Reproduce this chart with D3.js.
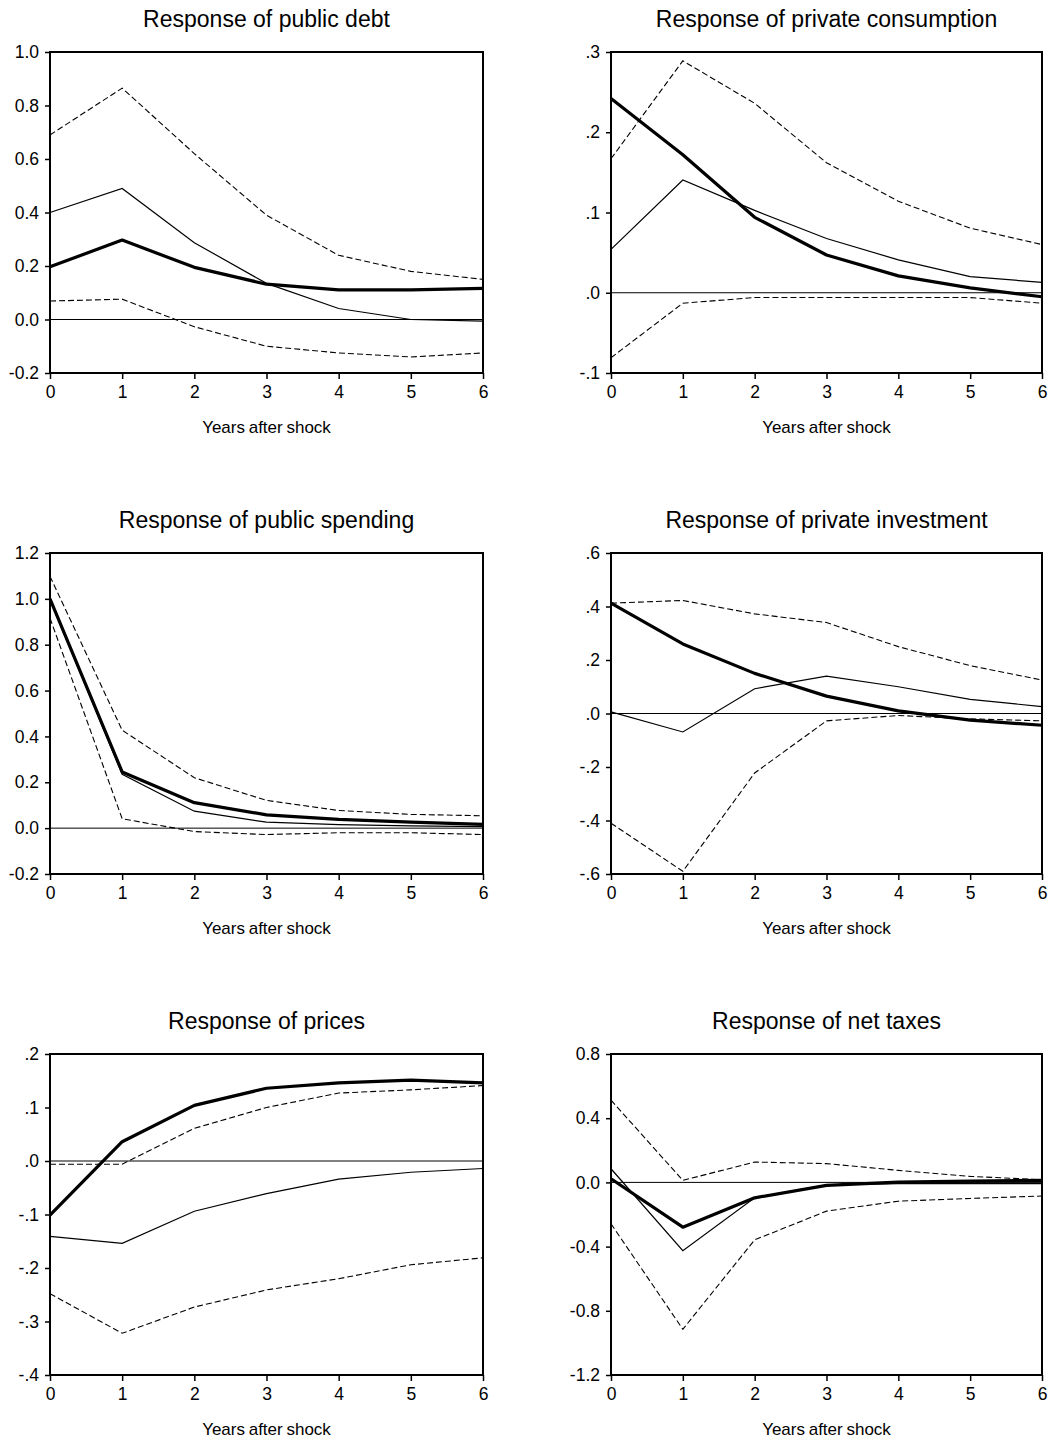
<!DOCTYPE html>
<html>
<head>
<meta charset="utf-8">
<script src="https://cdn.jsdelivr.net/npm/d3@7"></script>
<style>
  body { margin: 0; background: #fff; }
  text { font-family: "Liberation Sans", Arial, sans-serif; fill: #000; }
</style>
</head>
<body>
<script>
// horizons on the x axis
const years = [0, 1, 2, 3, 4, 5, 6];

// public debt
const debtMain = [0.197, 0.297, 0.195, 0.132, 0.111, 0.111, 0.116];
const debtAlt = [0.40, 0.49, 0.287, 0.135, 0.041, 0.0, -0.006];
const debtUpper = [0.69, 0.865, 0.62, 0.39, 0.24, 0.18, 0.15];
const debtLower = [0.069, 0.076, -0.027, -0.10, -0.125, -0.14, -0.125];
const debtTicks = [-0.2, 0.0, 0.2, 0.4, 0.6, 0.8, 1.0];
const debtTickLabels = ["-0.2", "0.0", "0.2", "0.4", "0.6", "0.8", "1.0"];

// private consumption
const consMain = [0.242, 0.172, 0.094, 0.047, 0.021, 0.006, -0.005];
const consAlt = [0.054, 0.1405, 0.1026, 0.0676, 0.041, 0.020, 0.013];
const consUpper = [0.167, 0.289, 0.236, 0.162, 0.114, 0.0805, 0.060];
const consLower = [-0.081, -0.013, -0.006, -0.006, -0.006, -0.006, -0.013];
const consTicks = [-0.1, 0.0, 0.1, 0.2, 0.3];
const consTickLabels = ["-.1", ".0", ".1", ".2", ".3"];

// public spending
const spendMain = [1.0, 0.245, 0.111, 0.058, 0.038, 0.026, 0.016];
const spendAlt = [0.996, 0.235, 0.074, 0.026, 0.015, 0.01, 0.007];
const spendUpper = [1.098, 0.427, 0.22, 0.121, 0.077, 0.06, 0.054];
const spendLower = [0.916, 0.041, -0.015, -0.028, -0.02, -0.02, -0.028];
const spendTicks = [-0.2, 0.0, 0.2, 0.4, 0.6, 0.8, 1.0, 1.2];
const spendTickLabels = ["-0.2", "0.0", "0.2", "0.4", "0.6", "0.8", "1.0", "1.2"];

// private investment
const invMain = [0.4125, 0.26, 0.15, 0.065, 0.01, -0.025, -0.044];
const invAlt = [0.006, -0.069, 0.0925, 0.14, 0.1, 0.0525, 0.026];
const invUpper = [0.4125, 0.4225, 0.3725, 0.34, 0.25, 0.179, 0.125];
const invLower = [-0.41, -0.59, -0.2225, -0.0275, -0.0075, -0.02, -0.0275];
const invTicks = [-0.6, -0.4, -0.2, 0.0, 0.2, 0.4, 0.6];
const invTickLabels = ["-.6", "-.4", "-.2", ".0", ".2", ".4", ".6"];

// prices
const priceMain = [-0.101, 0.036, 0.104, 0.136, 0.146, 0.151, 0.146];
const priceAlt = [-0.141, -0.154, -0.094, -0.061, -0.034, -0.021, -0.014];
const priceUpper = [-0.006, -0.006, 0.061, 0.10, 0.127, 0.133, 0.141];
const priceLower = [-0.248, -0.322, -0.273, -0.241, -0.22, -0.194, -0.181];
const priceTicks = [-0.4, -0.3, -0.2, -0.1, 0.0, 0.1, 0.2];
const priceTickLabels = ["-.4", "-.3", "-.2", "-.1", ".0", ".1", ".2"];

// net taxes
const taxMain = [0.023, -0.279, -0.096, -0.019, 0.002, 0.008, 0.0125];
const taxAlt = [0.085, -0.425, -0.096, -0.015, -0.008, -0.008, -0.008];
const taxUpper = [0.5125, 0.0125, 0.127, 0.117, 0.075, 0.0375, 0.017];
const taxLower = [-0.258, -0.915, -0.358, -0.179, -0.117, -0.1, -0.085];
const taxTicks = [-1.2, -0.8, -0.4, 0.0, 0.4, 0.8];
const taxTickLabels = ["-1.2", "-0.8", "-0.4", "0.0", "0.4", "0.8"];

const titles = ["Response of public debt", "Response of private consumption",
  "Response of public spending", "Response of private investment",
  "Response of prices", "Response of net taxes"];

const panels = [
  { main: debtMain, alt: debtAlt, upper: debtUpper, lower: debtLower, ticks: debtTicks, labels: debtTickLabels },
  { main: consMain, alt: consAlt, upper: consUpper, lower: consLower, ticks: consTicks, labels: consTickLabels },
  { main: spendMain, alt: spendAlt, upper: spendUpper, lower: spendLower, ticks: spendTicks, labels: spendTickLabels },
  { main: invMain, alt: invAlt, upper: invUpper, lower: invLower, ticks: invTicks, labels: invTickLabels },
  { main: priceMain, alt: priceAlt, upper: priceUpper, lower: priceLower, ticks: priceTicks, labels: priceTickLabels },
  { main: taxMain, alt: taxAlt, upper: taxUpper, lower: taxLower, ticks: taxTicks, labels: taxTickLabels }
];

// plot frame positions (left/right per column, top per row)
const colX = [[50, 483], [611, 1042]];
const rowY = [52, 553, 1054];
const plotH = 321;

function drawPanel(svg, p, title, left, right, top) {
  var bottom = top + plotH;
  var g = svg.append("g");

  var xScale = d3.scaleLinear().domain([0, 6]).range([left, right]);
  var yScale = d3.scaleLinear()
    .domain([d3.min(p.ticks), d3.max(p.ticks)])
    .range([bottom, top]);

  // zero line
  g.append("line")
    .attr("x1", left).attr("x2", right)
    .attr("y1", yScale(0)).attr("y2", yScale(0))
    .attr("stroke", "#000").attr("stroke-width", 1);

  var line = d3.line()
    .x((d, i) => xScale(years[i]))
    .y(d => yScale(d));

  // confidence bands (dashed)
  [p.upper, p.lower].forEach(function(s) {
    g.append("path").datum(s)
      .attr("d", line)
      .attr("fill", "none")
      .attr("stroke", "#000")
      .attr("stroke-width", 1.1)
      .attr("stroke-dasharray", "6,3");
  });

  // thin solid line
  g.append("path").datum(p.alt)
    .attr("d", line)
    .attr("fill", "none")
    .attr("stroke", "#000")
    .attr("stroke-width", 1.2);

  // thick line - point estimate
  g.append("path").datum(p.main)
    .attr("d", line)
    .attr("fill", "none")
    .attr("stroke", "#000")
    .attr("stroke-width", 3.2)
    .attr("stroke-linejoin", "round");

  // frame
  g.append("rect")
    .attr("x", left).attr("y", top)
    .attr("width", right - left).attr("height", plotH)
    .attr("fill", "none")
    .attr("stroke", "#000")
    .attr("stroke-width", 2);

  // y axis
  var yAxis = d3.axisLeft(yScale)
    .tickValues(p.ticks)
    .tickSize(5)
    .tickPadding(6)
    .tickFormat((d, i) => p.labels[i]);
  var gy = g.append("g")
    .attr("transform", "translate(" + left + ",0)")
    .call(yAxis);
  gy.select(".domain").remove();
  gy.selectAll("line").attr("stroke", "#000").attr("stroke-width", 1.5);
  gy.selectAll("text").style("font-size", "17.5px").attr("fill", "#000");

  // x axis
  var xAxis = d3.axisBottom(xScale)
    .tickValues(years)
    .tickSize(6)
    .tickPadding(7)
    .tickFormat(d3.format("d"));
  var gx = g.append("g")
    .attr("transform", "translate(0," + bottom + ")")
    .call(xAxis);
  gx.select(".domain").remove();
  gx.selectAll("line").attr("stroke", "#000").attr("stroke-width", 1.5);
  gx.selectAll("text").style("font-size", "17.5px").attr("fill", "#000");

  // title
  g.append("text")
    .attr("x", (left + right) / 2)
    .attr("y", top - 25)
    .attr("text-anchor", "middle")
    .style("font-size", "23px")
    .text(title);

  // x label
  g.append("text")
    .attr("x", (left + right) / 2)
    .attr("y", bottom + 60)
    .attr("text-anchor", "middle")
    .style("font-size", "17px")
    .style("word-spacing", "-1px")
    .text("Years after shock");
}

function main() {
  let svg = d3.select("body")
    .append("svg")
    .attr("width", 1051)
    .attr("height", 1443)
    .attr("style", "background: #fff; display: block");

  panels.forEach(function(p, i) {
    var col = i % 2;
    var row = Math.floor(i / 2);
    drawPanel(svg, p, titles[i], colX[col][0], colX[col][1], rowY[row]);
  });
}

main();
</script>
</body>
</html>
